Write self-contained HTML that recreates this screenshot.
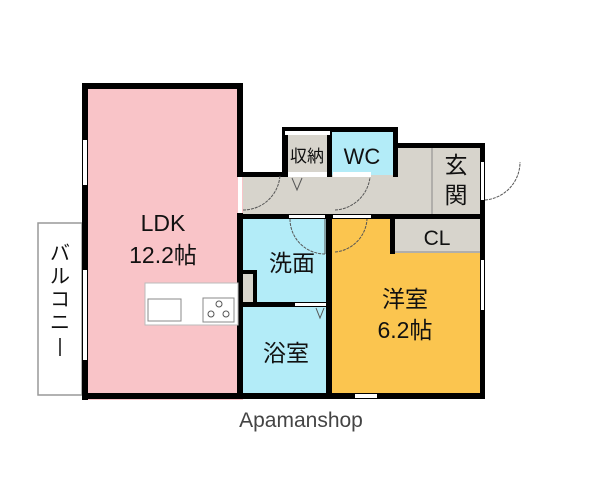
<!DOCTYPE html>
<html><head><meta charset="utf-8"><style>
html,body{margin:0;padding:0;background:#fff;width:600px;height:480px;overflow:hidden}
svg{display:block}
text{font-family:"Liberation Sans","Noto Sans CJK JP",sans-serif;fill:#111}
</style></head><body>
<svg width="600" height="480" viewBox="0 0 600 480">
<rect x="38" y="223" width="44" height="172" fill="#fff" stroke="#999" stroke-width="1.5"/>
<text x="60" y="260" font-size="20" text-anchor="middle">バ</text>
<text x="60" y="283" font-size="20" text-anchor="middle">ル</text>
<text x="60" y="306" font-size="20" text-anchor="middle">コ</text>
<text x="60" y="329" font-size="20" text-anchor="middle">ニ</text>
<line x1="60" y1="338" x2="60" y2="356" stroke="#111" stroke-width="1.5"/>
<rect x="82" y="83" width="161" height="317" fill="#f9c4c8"/>
<rect x="243" y="175" width="240" height="42" fill="#d7d4cc"/>
<rect x="285" y="130" width="45" height="45" fill="#d7d4cc"/>
<rect x="330" y="130" width="65" height="45" fill="#b3ecf8"/>
<rect x="395" y="143" width="88" height="74" fill="#d7d4cc"/>
<rect x="326" y="217" width="157" height="180" fill="#fbc54f"/>
<rect x="393" y="217" width="90" height="36" fill="#d7d4cc"/>
<rect x="243" y="217" width="85" height="180" fill="#b3ecf8"/>
<rect x="243" y="272" width="12" height="32" fill="#d7d4cc"/>
<g fill="#000">
<rect x="82" y="83" width="161" height="6"/>
<rect x="82" y="83" width="6" height="317"/>
<rect x="82" y="393" width="401" height="6"/>
<rect x="237" y="83" width="6" height="92"/>
<rect x="237" y="213" width="6" height="186"/>
<rect x="237" y="172" width="50" height="5"/>
<rect x="282" y="127" width="6" height="50"/>
<rect x="282" y="127" width="116" height="5"/>
<rect x="327" y="127" width="5" height="50"/>
<rect x="393" y="127" width="5" height="50"/>
<rect x="393" y="143" width="92" height="5"/>
<rect x="480" y="143" width="5" height="256"/>
<rect x="237" y="214" width="248" height="5"/>
<rect x="326" y="214" width="6" height="185"/>
<rect x="390" y="214" width="5" height="40"/>
<rect x="237" y="302" width="91" height="5"/>
<rect x="243" y="270" width="14" height="4"/>
<rect x="253" y="270" width="4" height="36"/>
<rect x="203" y="290" width="36" height="6"/>
</g>
<g fill="#fff">
<rect x="83" y="140" width="4" height="45"/>
<rect x="83" y="270" width="4" height="90"/>
<rect x="238" y="177" width="4" height="36"/>
<rect x="288" y="172" width="39" height="5"/>
<rect x="333" y="172" width="38" height="5"/>
<rect x="289" y="215" width="36" height="3"/>
<rect x="333" y="215" width="38" height="3"/>
<rect x="295" y="303" width="31" height="3"/>
<rect x="481" y="162" width="3" height="38"/>
<rect x="481" y="260" width="3" height="50"/>
<rect x="355" y="394" width="22" height="4"/>
<rect x="285" y="131" width="45" height="4"/>
</g>
<line x1="395" y1="252" x2="480" y2="252" stroke="#888"/>
<line x1="432" y1="148" x2="432" y2="214" stroke="#888"/>
<g fill="none" stroke="#555" stroke-width="1" stroke-dasharray="3,1">
<path d="M243 210 A37 37 0 0 0 280 175"/>
<path d="M335 210 A37 37 0 0 0 370 177"/>
<path d="M290 219 A35 35 0 0 0 325 254"/>
<path d="M335 252 A35 35 0 0 0 367 219"/>
<path d="M485 200 A38 38 0 0 0 520 162"/>
</g>
<line x1="325" y1="219" x2="325" y2="254" stroke="#555"/>
<path d="M292 178 L297 190 L302 178" fill="none" stroke="#555"/>
<path d="M316 308 L320 318 L324 308" fill="none" stroke="#555"/>
<rect x="145" y="283" width="93" height="42" fill="#fff" stroke="#bbb"/>
<rect x="148" y="299" width="33" height="22" fill="#fff" stroke="#888"/>
<rect x="203" y="298" width="31" height="24" fill="#fff" stroke="#888"/>
<circle cx="219" cy="304" r="3" fill="none" stroke="#555"/>
<circle cx="211" cy="314" r="3" fill="none" stroke="#555"/>
<circle cx="226" cy="314" r="3" fill="none" stroke="#555"/>
<text x="163" y="231" font-size="23" text-anchor="middle">LDK</text>
<text x="163" y="263" font-size="23" text-anchor="middle">12.2帖</text>
<text x="307" y="162" font-size="17" text-anchor="middle">収納</text>
<text x="362" y="164" font-size="22" text-anchor="middle">WC</text>
<text x="456" y="173" font-size="23" text-anchor="middle">玄</text>
<text x="456" y="203" font-size="23" text-anchor="middle">関</text>
<text x="437" y="245" font-size="21" text-anchor="middle">CL</text>
<text x="292" y="271" font-size="23" text-anchor="middle">洗面</text>
<text x="286" y="361" font-size="23" text-anchor="middle">浴室</text>
<text x="405" y="307" font-size="23" text-anchor="middle">洋室</text>
<text x="405" y="338" font-size="23" text-anchor="middle">6.2帖</text>
<text x="301" y="427" font-size="21" text-anchor="middle" style="fill:#444">Apamanshop</text>
</svg>
</body></html>
